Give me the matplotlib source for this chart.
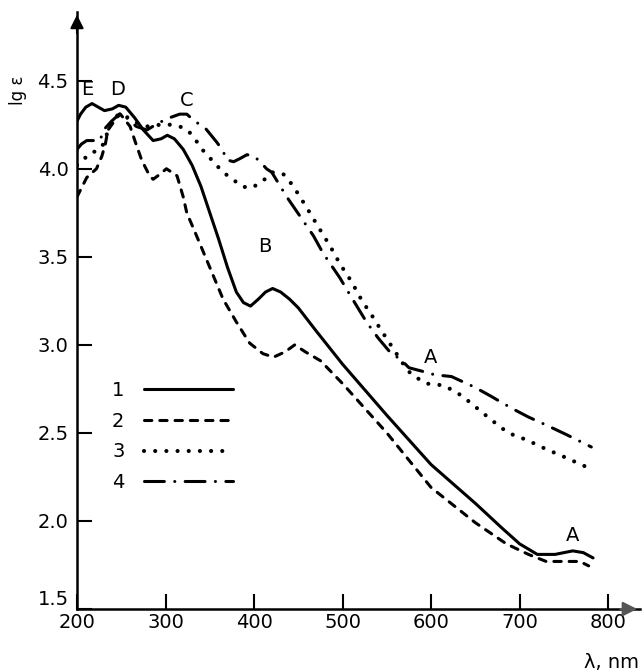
import matplotlib
matplotlib.use("Agg")
import matplotlib.pyplot as plt

# ---- data ----
x1 = [200, 204, 210, 217, 224, 231, 240, 247, 255, 265, 275, 286, 295, 302, 310, 320, 330, 340,
      350, 360, 370, 380, 388, 396, 405, 413, 421, 430, 440, 450, 470, 500, 550, 600, 650, 680,
      700, 720, 740, 760, 772, 783]
y1 = [4.27, 4.31, 4.35, 4.37, 4.35, 4.33, 4.34, 4.36, 4.35, 4.29, 4.22, 4.16, 4.17, 4.19, 4.17,
      4.11, 4.02, 3.90, 3.75, 3.60, 3.44, 3.30, 3.24, 3.22, 3.26, 3.30, 3.32, 3.30, 3.26, 3.21,
      3.08, 2.89, 2.60, 2.32, 2.10, 1.96, 1.87, 1.81, 1.81, 1.83, 1.82, 1.79]

x2 = [200, 211, 222, 228, 232, 235, 245, 249, 260, 266, 273, 282, 286, 294, 301, 313, 320, 324,
      335, 350, 365, 380, 395, 410, 422, 435, 446, 458, 475, 500, 550, 600, 650, 685, 710, 730,
      750, 768, 778]
y2 = [3.84, 3.95, 4.00, 4.07, 4.14, 4.22, 4.29, 4.31, 4.24, 4.15, 4.05, 3.96, 3.94, 3.97, 4.00,
      3.96, 3.84, 3.75, 3.62, 3.44, 3.26, 3.13, 3.01, 2.95, 2.93, 2.96, 3.00, 2.96, 2.91, 2.78,
      2.50, 2.19, 1.99, 1.87, 1.81, 1.77, 1.77, 1.77, 1.745]

x3 = [200, 207, 215, 222, 230, 234, 238, 244, 252, 260, 268, 279, 294, 305, 316, 325, 333, 343,
      354, 365, 376, 386, 396, 404, 412, 420, 433, 443, 452, 463, 475, 486, 497, 510, 522, 534,
      544, 557, 570, 578, 595, 614, 625, 635, 652, 669, 687, 708, 729, 752, 774]
y3 = [4.02, 4.05, 4.09, 4.10, 4.14, 4.20, 4.26, 4.30, 4.31, 4.28, 4.26, 4.24, 4.25, 4.25, 4.24,
      4.22, 4.17, 4.10, 4.04, 3.98, 3.94, 3.90, 3.89, 3.91, 3.94, 3.98, 3.97, 3.91, 3.84, 3.75,
      3.65, 3.56, 3.46, 3.36, 3.25, 3.16, 3.08, 2.98, 2.88, 2.83, 2.78, 2.77, 2.74, 2.71, 2.64,
      2.57, 2.50, 2.46, 2.41, 2.36, 2.31]

x4 = [200, 205, 211, 220, 226, 230, 239, 250, 258, 267, 279, 292, 305, 316, 324, 333, 345, 358,
      365, 369, 377, 385, 392, 400, 407, 414, 420, 437, 452, 467, 478, 497, 510, 527, 540, 555,
      565, 575, 590, 604, 623, 649, 667, 691, 710, 732, 753, 781]
y4 = [4.11, 4.14, 4.16, 4.16, 4.16, 4.22, 4.27, 4.32, 4.28, 4.24, 4.22, 4.26, 4.29, 4.31, 4.31,
      4.27, 4.23, 4.15, 4.10, 4.05, 4.04, 4.06, 4.08, 4.07, 4.04, 4.00, 3.98, 3.84, 3.73, 3.62,
      3.52, 3.38, 3.27, 3.13, 3.04, 2.95, 2.92, 2.87, 2.85, 2.83, 2.82, 2.76, 2.71, 2.64, 2.59,
      2.54, 2.49, 2.42]

series_labels = ["1", "2", "3", "4"]
x_ticks = [200, 300, 400, 500, 600, 700, 800]
y_ticks = [1.5, 2.0, 2.5, 3.0, 3.5, 4.0, 4.5]
peak_labels = ["E", "D", "C", "B", "A", "A"]
peak_x = [212, 246, 324, 412, 599, 760]
peak_y = [4.45, 4.45, 4.39, 3.56, 2.93, 1.92]

# ---- figure ----
W, H = 642, 672
fig = plt.figure(figsize=(W / 100, H / 100), dpi=100)
ax = fig.add_axes([77 / W, (H - 609) / H, 563 / W, 597 / H])
ax.set_xlim(200, 836)
ax.set_ylim(1.5, 4.89)

lw = 2.2
styles = [
    dict(linestyle="-", lw=lw, solid_capstyle="round"),
    dict(linestyle=(0, (2.4, 2.6)), lw=lw, dash_capstyle="round"),
    dict(linestyle=(0, (0.01, 2.7)), lw=lw * 1.35, dash_capstyle="round"),
    dict(linestyle=(0, (6.5, 3.4, 0.01, 3.4)), lw=lw, dash_capstyle="round"),
]
for xs, ys, st, lab in zip([x1, x2, x3, x4], [y1, y2, y3, y4], styles, series_labels):
    ax.plot(xs, ys, color="black", label=lab, **st)

for t, px, py in zip(peak_labels, peak_x, peak_y):
    ax.text(px, py, t, fontsize=14, ha="center", va="center", color="black")

# axes styling
for s in ["top", "right"]:
    ax.spines[s].set_visible(False)
for s in ["left", "bottom"]:
    ax.spines[s].set_linewidth(1.8)
ax.set_xticks(x_ticks)
ax.set_yticks(y_ticks)
ax.set_xticklabels([str(v) for v in x_ticks])
ax.set_yticklabels([f"{v:.1f}" for v in y_ticks])
ax.tick_params(axis="both", direction="in", length=10.5, width=1.5, labelsize=14, color="black")
ax.tick_params(axis="y", pad=6)
ax.tick_params(axis="x", pad=3)
ylabs = ax.get_yticklabels()
ylabs[0].set_verticalalignment("bottom")

# arrows at ends of axes
ax.annotate("", xy=(1.0, 0), xytext=(0.96, 0), xycoords="axes fraction",
            arrowprops=dict(arrowstyle="-|>", color="#555555", lw=1.5, mutation_scale=22),
            annotation_clip=False)
ax.annotate("", xy=(0, 1.0), xytext=(0, 0.96), xycoords="axes fraction",
            arrowprops=dict(arrowstyle="-|>", color="black", lw=1.5, mutation_scale=20),
            annotation_clip=False)

fig.text(18 / W, 1 - 90 / H, "lg ε", rotation=90, fontsize=12, ha="center", va="center")
fig.text(612 / W, 1 - 662 / H, "λ, nm", fontsize=14, ha="center", va="center")

leg = ax.legend(loc="upper left", bbox_to_anchor=(112 / W, 1 - 381 / H),
                bbox_transform=fig.transFigure, frameon=False, markerfirst=False,
                fontsize=14, handlelength=4.6, handletextpad=1.0, labelspacing=0.6,
                borderpad=0, borderaxespad=0)

fig.savefig("out.png", dpi=100, facecolor="white")
